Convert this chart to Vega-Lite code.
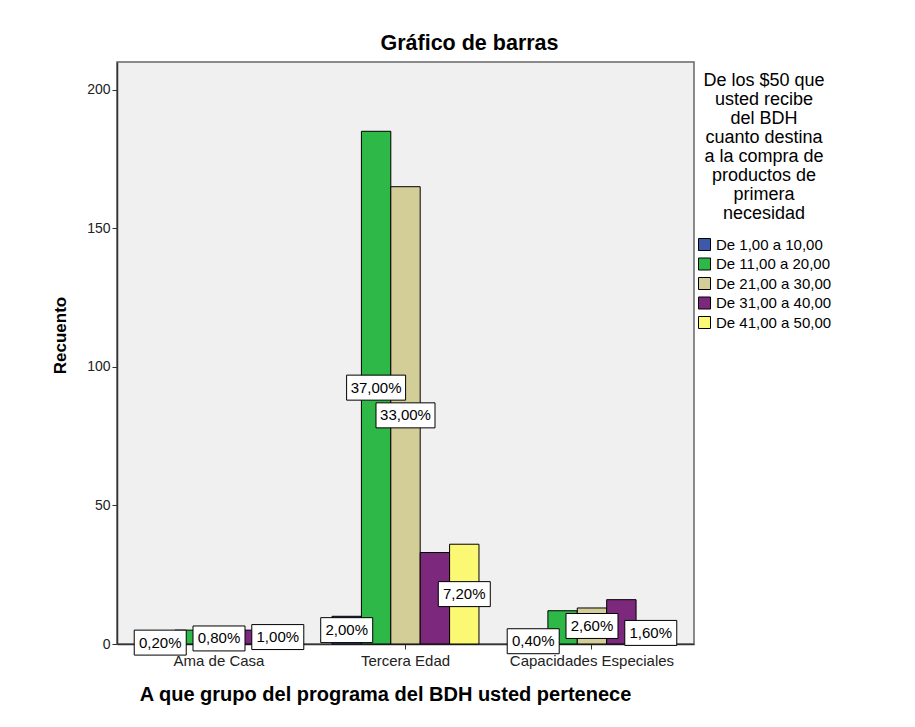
{
  "$schema": "https://vega.github.io/schema/vega-lite/v6.json",
  "width": 577,
  "height": 582,
  "autosize": {"type": "none"},
  "padding": {"left": 117, "top": 62, "right": 221, "bottom": 83},
  "background": "white",
  "config": {
    "font": "Liberation Sans",
    "view": {"fill": "#f0f0f0", "stroke": "#666666", "strokeWidth": 1.5}
  },
  "title": {
    "text": "Gráfico de barras",
    "fontSize": 21.5,
    "fontWeight": "bold",
    "font": "Liberation Sans",
    "color": "#000000",
    "anchor": "middle",
    "dx": 64,
    "offset": 8
  },
  "data": {
    "values": [
      {"grupo": "Ama de Casa", "cat": "De 1,00 a 10,00", "count": 1, "pct": "0,20%"},
      {"grupo": "Ama de Casa", "cat": "De 11,00 a 20,00", "count": 5, "pct": ""},
      {"grupo": "Ama de Casa", "cat": "De 21,00 a 30,00", "count": 4, "pct": "0,80%"},
      {"grupo": "Ama de Casa", "cat": "De 31,00 a 40,00", "count": 5, "pct": ""},
      {"grupo": "Ama de Casa", "cat": "De 41,00 a 50,00", "count": 5, "pct": "1,00%"},
      {"grupo": "Tercera Edad", "cat": "De 1,00 a 10,00", "count": 10, "pct": "2,00%"},
      {"grupo": "Tercera Edad", "cat": "De 11,00 a 20,00", "count": 185, "pct": "37,00%"},
      {"grupo": "Tercera Edad", "cat": "De 21,00 a 30,00", "count": 165, "pct": "33,00%"},
      {"grupo": "Tercera Edad", "cat": "De 31,00 a 40,00", "count": 33, "pct": ""},
      {"grupo": "Tercera Edad", "cat": "De 41,00 a 50,00", "count": 36, "pct": "7,20%"},
      {"grupo": "Capacidades Especiales", "cat": "De 1,00 a 10,00", "count": 2, "pct": "0,40%"},
      {"grupo": "Capacidades Especiales", "cat": "De 11,00 a 20,00", "count": 12, "pct": ""},
      {"grupo": "Capacidades Especiales", "cat": "De 21,00 a 30,00", "count": 13, "pct": "2,60%"},
      {"grupo": "Capacidades Especiales", "cat": "De 31,00 a 40,00", "count": 16, "pct": ""},
      {"grupo": "Capacidades Especiales", "cat": "De 41,00 a 50,00", "count": 8, "pct": "1,60%"}
    ]
  },
  "encoding": {
    "x": {
      "field": "grupo",
      "type": "nominal",
      "sort": ["Ama de Casa", "Tercera Edad", "Capacidades Especiales"],
      "scale": {"paddingInner": 0.212, "paddingOuter": 0.153},
      "title": "A que grupo del programa del BDH usted pertenece",
      "axis": {
        "labelAngle": 0,
        "labelFontSize": 15,
        "labelColor": "#222222",
        "labelPadding": 4,
        "tickSize": 5,
        "tickColor": "#333333",
        "domainColor": "#333333",
        "domainWidth": 1.5,
        "titleFontSize": 20,
        "titleFontWeight": "bold",
        "titleColor": "#000000",
        "titlePadding": 16,
        "titleX": 268
      }
    },
    "xOffset": {
      "field": "cat",
      "type": "nominal",
      "sort": ["De 1,00 a 10,00", "De 11,00 a 20,00", "De 21,00 a 30,00", "De 31,00 a 40,00", "De 41,00 a 50,00"],
      "scale": {"paddingInner": 0, "paddingOuter": 0}
    }
  },
  "layer": [
    {
      "mark": {"type": "bar", "stroke": "#000000", "strokeWidth": 1},
      "encoding": {
        "y": {
          "field": "count",
          "type": "quantitative",
          "scale": {"domain": [0, 210], "nice": false},
          "title": "Recuento",
          "axis": {
            "values": [0, 50, 100, 150, 200],
            "grid": false,
            "labelFontSize": 14,
            "labelColor": "#222222",
            "labelPadding": 2,
            "tickSize": 5,
            "tickColor": "#333333",
            "domainColor": "#333333",
            "domainWidth": 1.5,
            "titleFontSize": 17,
            "titleFontWeight": "bold",
            "titleColor": "#000000",
            "titlePadding": 17,
            "titleY": 273
          }
        },
        "color": {
          "field": "cat",
          "type": "nominal",
          "sort": ["De 1,00 a 10,00", "De 11,00 a 20,00", "De 21,00 a 30,00", "De 31,00 a 40,00", "De 41,00 a 50,00"],
          "scale": {"range": ["#3e58ac", "#2eb848", "#d3ce97", "#7c287d", "#fbf873"]},
          "legend": {
            "title": ["De los $50 que", "usted recibe", "del BDH", "cuanto destina", "a la compra de", "productos de", "primera", "necesidad"],
            "orient": "none",
            "legendX": 580,
            "legendY": 10,
            "titleFontSize": 18,
            "titleFontWeight": "normal",
            "titleColor": "#000000",
            "titleAlign": "center",
            "titleAnchor": "middle",
            "titleLineHeight": 19,
            "titlePadding": 14,
            "labelFontSize": 15,
            "labelColor": "#000000",
            "symbolType": "square",
            "symbolSize": 144,
            "symbolStrokeColor": "#000000",
            "symbolStrokeWidth": 1,
            "symbolOpacity": 1,
            "rowPadding": 2.5,
            "labelOffset": 4
          }
        }
      }
    },
    {
      "transform": [
        {"filter": "length(datum.pct) == 5"},
        {"calculate": "datum.count / 2", "as": "mid"}
      ],
      "mark": {"type": "point", "shape": "M-1,-0.48H1V0.48H-1Z", "size": 2704, "filled": true, "fill": "#ffffff", "stroke": "#000000", "strokeWidth": 1, "opacity": 1},
      "encoding": {"y": {"field": "mid", "type": "quantitative"}}
    },
    {
      "transform": [
        {"filter": "length(datum.pct) == 6"},
        {"calculate": "datum.count / 2", "as": "mid"}
      ],
      "mark": {"type": "point", "shape": "M-1,-0.424H1V0.424H-1Z", "size": 3481, "filled": true, "fill": "#ffffff", "stroke": "#000000", "strokeWidth": 1, "opacity": 1},
      "encoding": {"y": {"field": "mid", "type": "quantitative"}}
    },
    {
      "transform": [
        {"filter": "datum.pct != ''"},
        {"calculate": "datum.count / 2", "as": "mid"}
      ],
      "mark": {"type": "text", "fontSize": 15, "color": "#000000", "baseline": "middle", "align": "center"},
      "encoding": {
        "y": {"field": "mid", "type": "quantitative"},
        "text": {"field": "pct", "type": "nominal"}
      }
    }
  ]
}
